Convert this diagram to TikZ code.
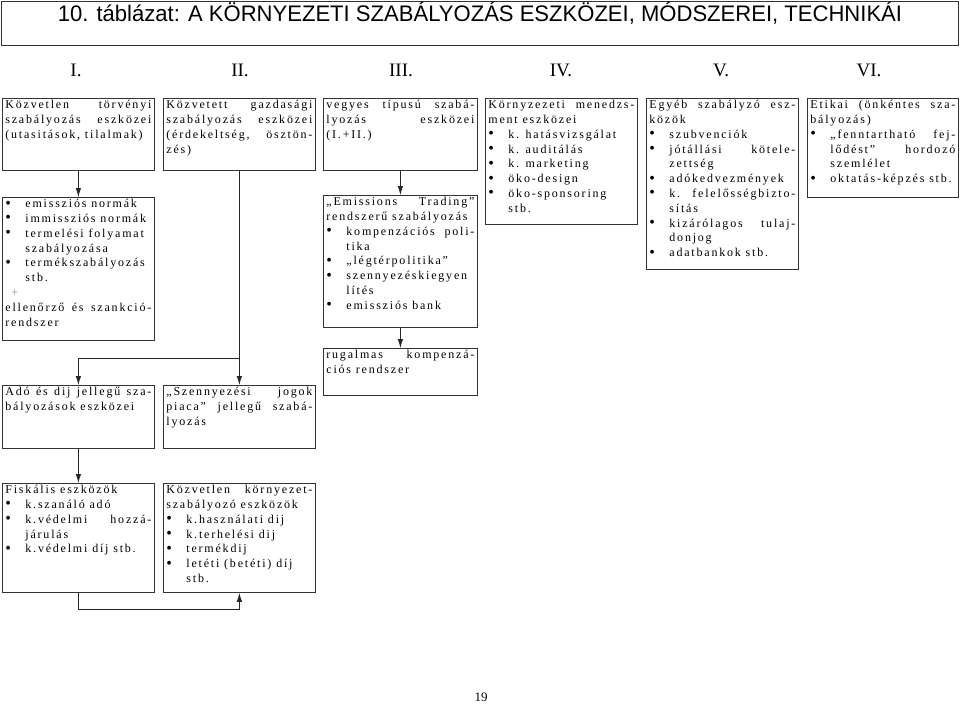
\documentclass[tikz,border=0pt]{standalone}
\usepackage{fontspec}
\setmainfont{Liberation Serif}
\newfontfamily\bodyfont[LetterSpace=15]{Liberation Serif}
\newfontfamily\titlefont[FakeStretch=0.98]{Liberation Sans}
\usetikzlibrary{arrows.meta,calc,positioning}

% text of a box: width, height, content (top aligned)
\newcommand{\boxtxt}[3]{\begin{minipage}[t][#2][t]{#1}%
  \tolerance=10000\hbadness=10000\hyphenpenalty=10000%
  \fontsize{12}{14.8}\bodyfont #3\end{minipage}}
% bullet item with hanging indent
\newcommand{\itm}{\par\hangindent=20pt\hangafter=1\noindent
  \makebox[20pt][l]{\raisebox{-0.4pt}{\fontsize{16}{14}\selectfont\textbullet}}\ignorespaces}

\begin{document}
\begin{tikzpicture}[
    x=1pt, y=-1pt,
    >={Latex[length=9pt,width=5.5pt]},
    tbox/.style={
      draw=black!80,
      line width=0.8pt,
      anchor=north west,
      inner xsep=3pt,
      inner ysep=2pt
    },
    numeral/.style={
      font=\fontsize{19}{20}\selectfont
    },
    conn/.style={
      ->,
      line width=0.8pt,
      draw=black!85
    }
  ]
  \useasboundingbox (0,0) rectangle (960,705);

  % Title
  \node [
    draw=black!80,
    line width=0.8pt,
    anchor=north west,
    minimum width=957pt,
    inner sep=0pt,
    text height=20pt,
    text depth=24pt,
    font=\titlefont\fontsize{22.5}{22}\selectfont
  ] (title) at (1,1) {10. táblázat: A KÖRNYEZETI SZABÁLYOZÁS ESZKÖZEI, MÓDSZEREI, TECHNIKÁI};

  % Column numbers
  \node [numeral] (n1) at (76,70) {I.};
  \node [numeral] (n2) at (240,70) {II.};
  \node [numeral] (n3) at (401,70) {III.};
  \node [numeral] (n4) at (561,70) {IV.};
  \node [numeral] (n5) at (721,70) {V.};
  \node [numeral] (n6) at (869,70) {VI.};

  % Top row boxes
  \node [tbox] (direct) at (2,98) {\boxtxt{146pt}{68pt}{Közvetlen törvényi\linebreak
    szabályozás eszközei\linebreak (utasitások, tilalmak)}};
  \node [tbox] (indirect) at (163,98) {\boxtxt{146pt}{68pt}{Közvetett gazdasági\linebreak
    szabályozás eszközei\linebreak (érdekeltség, ösztön-\linebreak zés)}};
  \node [tbox] (mixed) at (323,98) {\boxtxt{148pt}{68pt}{vegyes típusú szabá-\linebreak
    lyozás eszközei\linebreak (I.+II.)}};
  \node [tbox] (mgmt) at (485,98) {\boxtxt{146pt}{122pt}{Környzezeti menedzs-\linebreak
    ment eszközei
    \itm k. hatásvizsgálat
    \itm k. auditálás
    \itm k. marketing
    \itm öko-design
    \itm öko-sponsoring\newline stb.}};
  \node [tbox] (other) at (646,98) {\boxtxt{146pt}{167pt}{Egyéb szabályzó esz-\linebreak
    közök
    \itm szubvenciók
    \itm jótállási kötele-\linebreak zettség
    \itm adókedvezmények
    \itm k. felelősségbizto-\linebreak sítás
    \itm kizárólagos tulaj-\linebreak donjog
    \itm adatbankok stb.}};
  \node [tbox] (ethic) at (807,98) {\boxtxt{145pt}{95pt}{Etikai (önkéntes sza-\linebreak
    bályozás)
    \itm „fenntartható fej-\linebreak lődést” hordozó\linebreak szemlélet
    \itm oktatás-képzés stb.}};

  % Second row boxes
  \node [tbox] (norms) at (2,197) {\boxtxt{146pt}{139pt}{%
    \itm emissziós normák
    \itm immissziós normák
    \itm termelési folyamat\newline szabályozása
    \itm termékszabályozás\newline stb.
    \par\hspace*{6pt}{\color{black!45}+}
    \par ellenőrző és szankció-\linebreak rendszer}};
  \node [tbox] (trading) at (323,195) {\boxtxt{148pt}{128pt}{„Emissions Trading”\linebreak
    rendszerű szabályozás
    \itm kompenzációs poli-\linebreak tika
    \itm „légtérpolitika”
    \itm szennyezéskiegyen\newline lítés
    \itm emissziós bank}};
  \node [tbox] (flex) at (323,348) {\boxtxt{148pt}{43pt}{rugalmas kompenzá-\linebreak
    ciós rendszer}};
  \node [tbox] (tax) at (2,385) {\boxtxt{146pt}{59pt}{Adó és dij jellegű sza-\linebreak
    bályozások eszközei}};
  \node [tbox] (market) at (163,385) {\boxtxt{146pt}{59pt}{„Szennyezési jogok\linebreak
    piaca” jellegű szabá-\linebreak lyozás}};

  % Bottom row boxes
  \node [tbox] (fiscal) at (2,483) {\boxtxt{146pt}{105pt}{Fiskális eszközök
    \itm k.szanáló adó
    \itm k.védelmi hozzá-\linebreak járulás
    \itm k.védelmi díj stb.}};
  \node [tbox] (fees) at (163,483) {\boxtxt{146pt}{105pt}{Közvetlen környezet-\linebreak
    szabályozó eszközök
    \itm k.használati dij
    \itm k.terhelési dij
    \itm termékdij
    \itm letéti (betéti) díj\newline stb.}};

  \node [font=\fontsize{13}{14}\selectfont] (page) at (481,697) {19};

  % Connecting Arrows
  \coordinate (split) at (indirect.south |- 0,358);
  \coordinate (under) at (fiscal.south |- 0,609);
  \draw [conn] (direct.south) -- (norms.north);
  \draw [conn] (mixed.south) -- (trading.north);
  \draw [conn] (trading.south) -- (flex.north);
  \draw [conn] (indirect.south) -- (split) -| (tax.north);
  \draw [conn] (split) -- (market.north);
  \draw [conn] (tax.south) -- (fiscal.north);
  \draw [conn] (fiscal.south) -- (under) -| (fees.south);
\end{tikzpicture}
\end{document}
